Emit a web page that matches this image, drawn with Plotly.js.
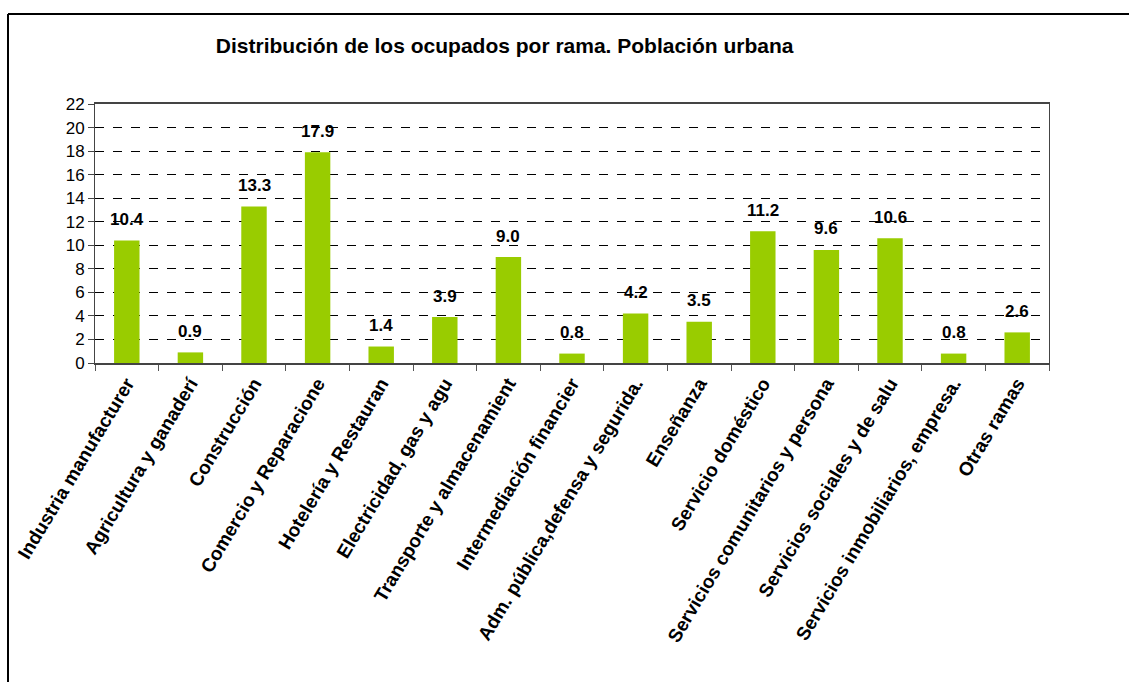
<!DOCTYPE html>
<html>
<head>
<meta charset="utf-8">
<script src="https://cdn.plot.ly/plotly-3.0.1.min.js"></script>
<style>
html,body{margin:0;padding:0;background:#fff;}
#chart{width:1129px;height:682px;}
</style>
</head>
<body>
<div id="chart"></div>
<script>
const categories = [
  "Industria manufacturer",
  "Agricultura y ganaderí",
  "Construcción",
  "Comercio y Reparacione",
  "Hotelería y Restauran",
  "Electricidad, gas y agu",
  "Transporte y almacenamient",
  "Intermediación financier",
  "Adm. pública,defensa y segurida.",
  "Enseñanza",
  "Servicio doméstico",
  "Servicios comunitarios y persona",
  "Servicios sociales y de salu",
  "Servicios inmobiliarios, empresa.",
  "Otras ramas"
];
const values = [10.4, 0.9, 13.3, 17.9, 1.4, 3.9, 9.0, 0.8, 4.2, 3.5, 11.2, 9.6, 10.6, 0.8, 2.6];
const yTicks = [0, 2, 4, 6, 8, 10, 12, 14, 16, 18, 20, 22];
const chartTitle = "Distribución de los ocupados por rama. Población urbana";

const FONT = "Liberation Sans, Arial, sans-serif";

const trace = {
  type: "bar",
  x: categories,
  y: values,
  marker: {color: "#99CC00", line: {width: 0}},
  width: 0.4,
  hoverinfo: "x+y"
};

const annotations = categories.map((c, i) => ({
  x: c, y: values[i], xref: "x", yref: "y",
  text: values[i].toFixed(1),
  showarrow: false, yanchor: "middle", yshift: 21,
  font: {family: FONT, size: 17, color: "#000", weight: "bold"}
}));

const layout = {
  width: 1129, height: 682,
  margin: {l: 95, r: 80, t: 104, b: 319},
  paper_bgcolor: "#fff", plot_bgcolor: "#fff",
  showlegend: false,
  title: {
    text: "<b>" + chartTitle + "</b>",
    x: 0.447, xref: "container", xanchor: "center",
    y: 1 - 46/682, yref: "container", yanchor: "middle",
    font: {family: FONT, size: 21, color: "#000"}
  },
  xaxis: {
    type: "category",
    tickangle: -59,
    ticks: "outside", tickson: "boundaries", ticklen: 6, tickcolor: "#555",
    showline: true, linecolor: "#444", linewidth: 2, mirror: true,
    showgrid: false,
    tickfont: {family: FONT, size: 19, color: "#000", weight: "bold"},
    automargin: false
  },
  yaxis: {
    range: [0, 22],
    tickvals: yTicks,
    ticktext: yTicks.map(String),
    ticks: "outside", ticklen: 6, tickcolor: "#444",
    showline: true, linecolor: "#444", linewidth: 1, mirror: true,
    showgrid: true, gridcolor: "#000", gridwidth: 1, griddash: "dash",
    zeroline: false,
    tickfont: {family: FONT, size: 17, color: "#000"},
    automargin: false
  },
  annotations: annotations,
  shapes: [
    {type: "line", xref: "paper", yref: "paper",
     x0: (8 - 95) / 954, x1: (1129 - 95) / 954, y0: (682 - 14 - 319) / 259, y1: (682 - 14 - 319) / 259,
     line: {color: "#000", width: 2}},
    {type: "line", xref: "paper", yref: "paper",
     x0: (8 - 95) / 954, x1: (8 - 95) / 954, y0: (682 - 14 - 319) / 259, y1: -319 / 259,
     line: {color: "#000", width: 2}}
  ]
};

Plotly.newPlot("chart", [trace], layout, {displayModeBar: false, staticPlot: true});
</script>
</body>
</html>
